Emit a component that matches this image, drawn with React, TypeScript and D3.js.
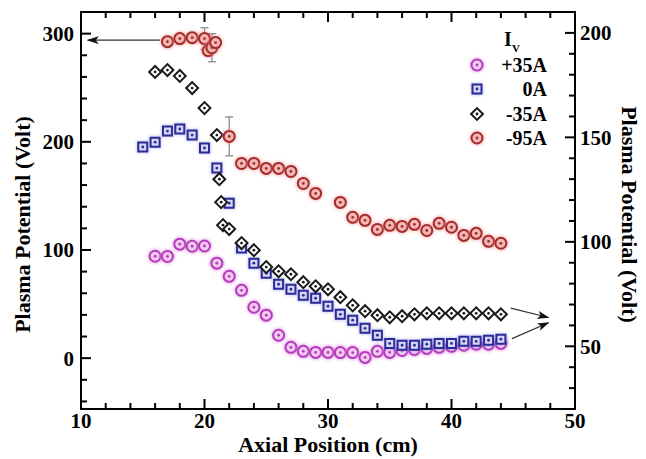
import React from 'react';
import * as d3 from 'd3';

// ---- data -------------------------------------------------------------
// Axial positions (cm) and plasma potentials (V).
// +35A, 0A and -35A are read against the right axis, -95A against the left axis.
const plus35X = [16, 17, 18, 19, 20, 21, 22, 23, 24, 25, 26, 27, 28, 29, 30, 31, 32, 33, 34, 35, 36, 37, 38, 39, 40, 41, 42, 43, 44];
const plus35V = [93.1, 93.0, 98.9, 97.9, 98.0, 89.8, 83.5, 76.8, 68.7, 64.9, 55.3, 49.5, 47.6, 47.1, 47.1, 47.0, 47.0, 44.7, 47.6, 47.1, 48.0, 48.5, 49.0, 49.5, 50.0, 50.5, 51.0, 51.0, 51.4];

const zeroX = [15, 16, 17, 18, 19, 20, 21, 22, 23, 24, 25, 26, 27, 28, 29, 30, 31, 32, 33, 34, 35, 36, 37, 38, 39, 40, 41, 42, 43, 44];
const zeroV = [145.4, 147.7, 153.0, 154.0, 151.1, 144.9, 135.3, 118.5, 97.0, 89.8, 85.0, 79.7, 77.3, 74.4, 73.0, 69.2, 65.3, 62.5, 58.6, 55.3, 51.4, 50.5, 50.5, 51.0, 51.4, 51.4, 52.4, 52.4, 52.9, 53.4];

const minus35X = [16, 17, 18, 19, 20, 21, 21.2, 21.35, 21.5, 22, 23, 24, 25, 26, 27, 28, 29, 30, 31, 32, 33, 34, 35, 36, 37, 38, 39, 40, 41, 42, 43, 44];
const minus35V = [181.3, 182.2, 179.4, 173.6, 164.0, 151.1, 130.0, 119.0, 108.0, 106.1, 99.4, 96.0, 87.9, 85.9, 84.5, 80.7, 78.7, 77.3, 73.5, 69.6, 66.8, 64.9, 63.9, 64.4, 65.3, 65.8, 65.8, 65.8, 65.8, 65.8, 65.8, 65.3];

const minus95X = [17, 18, 19, 20, 20.3, 20.6, 20.9, 22, 23, 24, 25, 26, 27, 28, 29, 31, 32, 33, 34, 35, 36, 37, 38, 39, 40, 41, 42, 43, 44];
const minus95V = [292.6, 295.4, 296.3, 295.4, 284.3, 287.0, 291.7, 205.0, 180.0, 180.0, 175.4, 175.4, 172.6, 161.5, 152.3, 144.0, 130.2, 127.4, 119.0, 122.8, 121.8, 123.7, 118.0, 124.6, 121.0, 113.5, 115.4, 108.0, 106.2];
const minus95Err = [0, 0, 0, 10, 0, 13, 0, 18, 0, 0, 0, 0, 0, 0, 0, 0, 0, 0, 0, 0, 0, 0, 0, 0, 0, 0, 0, 0, 0];

const legendLabels = ['+35A', '0A', '-35A', '-95A'];

const xTicks = [10, 20, 30, 40, 50];
const leftTicks = [0, 100, 200, 300];
const rightTicks = [50, 100, 150, 200];

// ---- layout -------------------------------------------------------------
const W = 646;
const H = 459;
const PL = 81;
const PR = 575;
const PT = 12;
const PB = 409;

const x = d3.scaleLinear().domain([10, 50]).range([PL, PR]);
const yL = d3.scaleLinear().domain([-47, 320]).range([PB, PT]);
const yR = d3.scaleLinear().domain([20, 210]).range([PB, PT]);

const FONT = "'Liberation Serif', 'Times New Roman', serif";

type Style = {
  shape: 'circle' | 'square' | 'diamond';
  fill: string;
  stroke: string;
  halo: string | null;
};

const styles: Style[] = [
  { shape: 'circle', fill: '#f4c9f1', stroke: '#b23cba', halo: '#e27be6' },
  { shape: 'square', fill: '#d6d6f5', stroke: '#2b2b96', halo: '#8a8ae6' },
  { shape: 'diamond', fill: '#ffffff', stroke: '#1a1a1a', halo: null },
  { shape: 'circle', fill: '#f1b8b6', stroke: '#a52a2a', halo: '#f09090' },
];

const circlePath = d3.symbol(d3.symbolCircle, Math.PI * 5.5 * 5.5)()!;
const squarePath = d3.symbol(d3.symbolSquare, 9 * 9)()!;
const diamondPath = d3.symbol(d3.symbolSquare, 8.4 * 8.4)()!;
const haloCircle = d3.symbol(d3.symbolCircle, Math.PI * 7.5 * 7.5)()!;
const haloSquare = d3.symbol(d3.symbolSquare, 12 * 12)()!;

function Marker({ cx, cy, s }: { cx: number; cy: number; s: Style }) {
  const path = s.shape === 'circle' ? circlePath : s.shape === 'square' ? squarePath : diamondPath;
  const rot = s.shape === 'diamond' ? ' rotate(45)' : '';
  return (
    <g transform={`translate(${cx},${cy})`}>
      {s.halo && (
        <path
          d={s.shape === 'square' ? haloSquare : haloCircle}
          fill={s.halo}
          opacity={0.55}
          filter="url(#soft)"
        />
      )}
      <g transform={rot.trim() || undefined}>
        <path d={path} fill={s.fill} stroke={s.stroke} strokeWidth={2} />
      </g>
      <circle r={1.4} fill={s.stroke} />
    </g>
  );
}

function range(a: number, b: number, step: number) {
  const out: number[] = [];
  for (let v = a; v <= b + 1e-9; v += step) out.push(+v.toFixed(6));
  return out;
}

export default function App() {
  const series = [
    { xs: plus35X, vs: plus35V, y: yR },
    { xs: zeroX, vs: zeroV, y: yR },
    { xs: minus35X, vs: minus35V, y: yR },
    { xs: minus95X, vs: minus95V, y: yL },
  ];

  const xMinor = range(12, 48, 2).filter((v) => v % 10 !== 0);
  const lMinor = range(-40, 320, 20).filter((v) => v % 100 !== 0);
  const rMinor = range(30, 200, 10).filter((v) => v % 50 !== 0);

  const MAJ = 10;
  const MIN = 6;

  // Axis-assignment arrows (data coordinates)
  const leftArrow = { x1: x(16.4), y1: yL(294), x2: x(10.55), y2: yL(294) };
  const rightArrows = [
    { x1: x(44.8), y1: yR(68.3), x2: x(47.85), y2: yR(63.8) },
    { x1: x(44.9), y1: yR(53.7), x2: x(47.85), y2: yR(61.3) },
  ];

  const legendX = 477;
  const legendRows = [65, 89, 114, 138];

  return (
    <svg
      width={W}
      height={H}
      viewBox={`0 0 ${W} ${H}`}
      style={{ position: 'absolute', left: 0, top: 0, background: '#fff' }}
      fontFamily={FONT}
      fontWeight="bold"
    >
      <defs>
        <filter id="soft" x="-50%" y="-50%" width="200%" height="200%">
          <feGaussianBlur stdDeviation="1.4" />
        </filter>
        <marker id="arrowHead" viewBox="0 0 12 8" refX="11" refY="4" markerWidth="12" markerHeight="8" markerUnits="userSpaceOnUse" orient="auto">
          <path d="M0,0 L12,4 L0,8 L3,4 Z" fill="#111" />
        </marker>
      </defs>
      <rect x={0} y={0} width={W} height={H} fill="#fff" />

      {/* frame */}
      <rect x={PL} y={PT} width={PR - PL} height={PB - PT} fill="none" stroke="#000" strokeWidth={2} />

      {/* bottom & top ticks */}
      {xTicks.map((t) => (
        <g key={`xt${t}`}>
          <line x1={x(t)} x2={x(t)} y1={PB} y2={PB - MAJ} stroke="#000" strokeWidth={2} />
          <line x1={x(t)} x2={x(t)} y1={PT} y2={PT + MAJ} stroke="#000" strokeWidth={2} />
          <text x={x(t)} y={428} textAnchor="middle" fontSize={21}>{t}</text>
        </g>
      ))}
      {xMinor.map((t) => (
        <g key={`xm${t}`}>
          <line x1={x(t)} x2={x(t)} y1={PB} y2={PB - MIN} stroke="#000" strokeWidth={2} />
          <line x1={x(t)} x2={x(t)} y1={PT} y2={PT + MIN} stroke="#000" strokeWidth={2} />
        </g>
      ))}

      {/* left axis */}
      {leftTicks.map((t) => (
        <g key={`lt${t}`}>
          <line x1={PL} x2={PL + MAJ} y1={yL(t)} y2={yL(t)} stroke="#000" strokeWidth={2} />
          <text x={74} y={yL(t) + 7.5} textAnchor="end" fontSize={21}>{t}</text>
        </g>
      ))}
      {lMinor.map((t) => (
        <line key={`lm${t}`} x1={PL} x2={PL + MIN} y1={yL(t)} y2={yL(t)} stroke="#000" strokeWidth={2} />
      ))}

      {/* right axis */}
      {rightTicks.map((t) => (
        <g key={`rt${t}`}>
          <line x1={PR} x2={PR - MAJ} y1={yR(t)} y2={yR(t)} stroke="#000" strokeWidth={2} />
          <text x={580} y={yR(t) + 7.5} textAnchor="start" fontSize={21}>{t}</text>
        </g>
      ))}
      {rMinor.map((t) => (
        <line key={`rm${t}`} x1={PR} x2={PR - MIN} y1={yR(t)} y2={yR(t)} stroke="#000" strokeWidth={2} />
      ))}

      {/* axis titles */}
      <text x={(PL + PR) / 2} y={452} textAnchor="middle" fontSize={22}>Axial Position (cm)</text>
      <text transform={`translate(30,${(PT + PB) / 2 + 14}) rotate(-90)`} textAnchor="middle" fontSize={22}>
        Plasma Potential (Volt)
      </text>
      <text transform={`translate(622,${(PT + PB) / 2 + 4}) rotate(90)`} textAnchor="middle" fontSize={22}>
        Plasma Potential (Volt)
      </text>

      {/* arrows */}
      <line {...leftArrow} stroke="#333" strokeWidth={1.2} markerEnd="url(#arrowHead)" />
      {rightArrows.map((a, i) => (
        <line key={`ra${i}`} {...a} stroke="#333" strokeWidth={1.2} markerEnd="url(#arrowHead)" />
      ))}

      {/* error bars */}
      {minus95X.map((xv, i) =>
        minus95Err[i] > 0 ? (
          <g key={`eb${i}`} stroke="#8a8a8a" strokeWidth={1.3}>
            <line x1={x(xv)} x2={x(xv)} y1={yL(minus95V[i] - minus95Err[i])} y2={yL(minus95V[i] + minus95Err[i])} />
            <line x1={x(xv) - 4} x2={x(xv) + 4} y1={yL(minus95V[i] - minus95Err[i])} y2={yL(minus95V[i] - minus95Err[i])} />
            <line x1={x(xv) - 4} x2={x(xv) + 4} y1={yL(minus95V[i] + minus95Err[i])} y2={yL(minus95V[i] + minus95Err[i])} />
          </g>
        ) : null
      )}

      {/* data */}
      {series.map((s, si) => (
        <g key={`s${si}`}>
          {s.xs.map((xv, i) => (
            <Marker key={i} cx={x(xv)} cy={s.y(s.vs[i])} s={styles[si]} />
          ))}
        </g>
      ))}

      {/* legend */}
      <text x={504} y={46} fontSize={20}>I</text>
      <text x={512} y={52} fontSize={11}>V</text>
      {legendLabels.map((lab, i) => (
        <g key={`lg${i}`}>
          <Marker cx={legendX} cy={legendRows[i]} s={styles[i]} />
          <text x={547} y={legendRows[i] + 7} textAnchor="end" fontSize={20}>{lab}</text>
        </g>
      ))}
    </svg>
  );
}
